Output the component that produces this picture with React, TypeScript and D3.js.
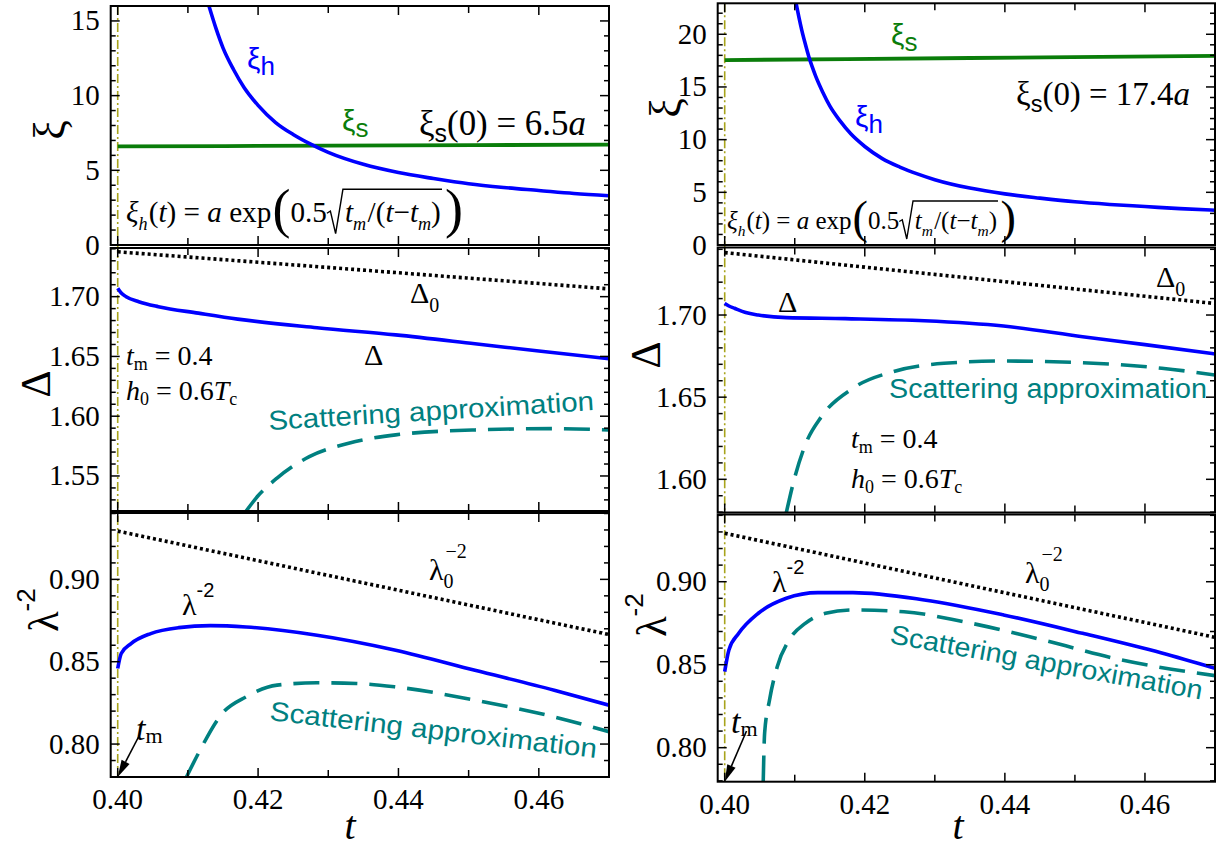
import React from 'react';
import * as d3 from 'd3';

const SERIF = "Liberation Serif, Tinos, Times New Roman, DejaVu Serif, serif";
const SANS = "Liberation Sans, Arimo, Arial, DejaVu Sans, sans-serif";
const BLUE = '#0000ff';
const GREEN = '#0a7d0a';
const TEAL = '#008080';
const OLIVE = '#a8a41c';

// ---------- shared axis values ----------
const T_DOMAIN: [number, number] = [0.399, 0.470];
const T_MAJOR = [0.40, 0.42, 0.44, 0.46];
const T_MINOR = [0.41, 0.43, 0.45];
const T_LABELS = ['0.40', '0.42', '0.44', '0.46'];
const T_M = 0.40;

const L_XI_TICKS = [0, 5, 10, 15];
const R_XI_TICKS = [0, 5, 10, 15, 20];
const L_DELTA_TICKS = [1.55, 1.60, 1.65, 1.70];
const R_DELTA_TICKS = [1.60, 1.65, 1.70];
const LAMBDA_TICKS = [0.80, 0.85, 0.90];

// ---------- left column data ----------
const L_XIS_T = [0.400, 0.430, 0.470];
const L_XIS_V = [6.60, 6.65, 6.72];
const L_XIH_T = [0.4130, 0.4140, 0.4150, 0.4165, 0.4180, 0.4200, 0.4225, 0.4250, 0.4275, 0.4300, 0.4350, 0.4400, 0.4450, 0.4500, 0.4550, 0.4600, 0.4650, 0.4700];
const L_XIH_V = [16.0, 14.5, 13.2, 11.75, 10.55, 9.35, 8.2, 7.4, 6.75, 6.2, 5.4, 4.85, 4.45, 4.1, 3.85, 3.65, 3.45, 3.3];

const L_D0_T = [0.400, 0.435, 0.470];
const L_D0_V = [1.7375, 1.7222, 1.7065];
const L_D_T = [0.4000, 0.4005, 0.4012, 0.4030, 0.4058, 0.4115, 0.4171, 0.4284, 0.4396, 0.4509, 0.4600, 0.4700];
const L_D_V = [1.7070, 1.7030, 1.7000, 1.6958, 1.6916, 1.6862, 1.6812, 1.6740, 1.6680, 1.6606, 1.6545, 1.6480];
const L_DS_T = [0.4183, 0.4199, 0.4227, 0.4273, 0.4329, 0.4396, 0.4509, 0.4622, 0.4700];
const L_DS_V = [1.5207, 1.5328, 1.5482, 1.5662, 1.5774, 1.5844, 1.5885, 1.5896, 1.5885];

const L_L0_T = [0.400, 0.435, 0.470];
const L_L0_V = [0.9293, 0.8979, 0.8665];
const L_L_T = [0.4000, 0.4005, 0.4019, 0.4047, 0.4087, 0.4132, 0.4183, 0.4284, 0.4396, 0.4509, 0.4622, 0.4700];
const L_L_V = [0.8459, 0.8550, 0.8610, 0.8671, 0.8707, 0.8719, 0.8711, 0.8661, 0.8570, 0.8448, 0.8327, 0.8236];
const L_LS_T = [0.4098, 0.4115, 0.4149, 0.4183, 0.4227, 0.4284, 0.4340, 0.4396, 0.4509, 0.4622, 0.4700];
const L_LS_V = [0.7800, 0.7944, 0.8186, 0.8287, 0.8358, 0.8372, 0.8368, 0.8347, 0.8267, 0.8165, 0.8075];

// ---------- right column data ----------
const R_XIS_T = [0.400, 0.435, 0.470];
const R_XIS_V = [17.55, 17.75, 17.95];
const R_XIH_T = [0.4102, 0.4106, 0.4110, 0.4115, 0.4120, 0.4125, 0.4130, 0.4140, 0.4150, 0.4165, 0.4180, 0.4200, 0.4225, 0.4250, 0.4275, 0.4300, 0.4350, 0.4400, 0.4450, 0.4500, 0.4550, 0.4600, 0.4650, 0.4700];
const R_XIH_V = [22.9, 21.6, 20.4, 19.1, 17.9, 16.9, 16.0, 14.5, 13.2, 11.75, 10.55, 9.35, 8.2, 7.4, 6.75, 6.2, 5.4, 4.85, 4.45, 4.1, 3.85, 3.65, 3.45, 3.3];

const R_D0_T = [0.400, 0.435, 0.470];
const R_D0_V = [1.7380, 1.7225, 1.7070];
const R_D_T = [0.4000, 0.4006, 0.4014, 0.4030, 0.4048, 0.4088, 0.4172, 0.4285, 0.4398, 0.4511, 0.4600, 0.4700];
const R_D_V = [1.7071, 1.7055, 1.7041, 1.7015, 1.7000, 1.6984, 1.6978, 1.6965, 1.6933, 1.6868, 1.6820, 1.6763];
const R_DS_T = [0.4088, 0.4099, 0.4116, 0.4138, 0.4183, 0.4240, 0.4313, 0.4398, 0.4511, 0.4624, 0.4700];
const R_DS_V = [1.5798, 1.5996, 1.6220, 1.6381, 1.6554, 1.6655, 1.6706, 1.6720, 1.6710, 1.6676, 1.6635];

const R_L0_T = [0.400, 0.435, 0.470];
const R_L0_V = [0.9292, 0.8978, 0.8665];
const R_L_T = [0.4000, 0.4006, 0.4020, 0.4048, 0.4088, 0.4133, 0.4183, 0.4285, 0.4398, 0.4511, 0.4624, 0.4700];
const R_L_V = [0.8458, 0.8589, 0.8689, 0.8810, 0.8900, 0.8934, 0.8934, 0.8890, 0.8800, 0.8689, 0.8570, 0.8478];
const R_LS_T = [0.4055, 0.4057, 0.4064, 0.4075, 0.4092, 0.4115, 0.4144, 0.4183, 0.4256, 0.4341, 0.4454, 0.4567, 0.4700];
const R_LS_V = [0.7795, 0.8088, 0.8287, 0.8488, 0.8649, 0.8749, 0.8810, 0.8830, 0.8819, 0.8759, 0.8649, 0.8528, 0.8434];

const zip = (t: number[], v: number[]): [number, number][] => t.map((x, i) => [x, v[i]]);

// ---------- text measuring / rich text ----------
let _ctx: CanvasRenderingContext2D | null = null;
function measure(s: string, size: number, italic: boolean, sans: boolean) {
  if (!_ctx) _ctx = document.createElement('canvas').getContext('2d');
  const c = _ctx!;
  c.font = `${italic ? 'italic ' : ''}${size}px ${sans ? SANS : SERIF}`;
  return c.measureText(s).width;
}

type Seg = { t?: string; s: number; it?: boolean; sans?: boolean; dy?: number; dx?: number; noAdv?: boolean; fill?: string; kind?: 'radStart' | 'radEnd' };

function Rich({ x, y, segs, rotate = 0, anchor = 'start', fill = '#000', fit }: { x: number; y: number; segs: Seg[]; rotate?: number; anchor?: string; fill?: string; fit?: number }) {
  const place = (k: number) => {
    let cx = 0;
    let rs = 0;
    const items: any[] = [];
    const paths: string[] = [];
    for (const sg of segs) {
      const s = sg.s * k;
      cx += (sg.dx || 0) * k;
      if (sg.kind === 'radStart') { rs = cx; cx += 0.62 * s; continue; }
      if (sg.kind === 'radEnd') {
        const re = cx + 0.04 * s;
        paths.push(`M${rs},${-0.3 * s}L${rs + 0.12 * s},${-0.37 * s}L${rs + 0.3 * s},${0.4 * s}L${rs + 0.55 * s},${-1.12 * s}H${re}`);
        cx += 0.1 * s;
        continue;
      }
      const w = measure(sg.t || '', s, !!sg.it, !!sg.sans);
      items.push({ ...sg, s, x: cx, dy: (sg.dy || 0) * k });
      if (!sg.noAdv) cx += w;
    }
    return { items, paths, width: cx };
  };
  let p = place(1);
  if (fit) p = place(fit / p.width);
  const off = anchor === 'middle' ? -p.width / 2 : anchor === 'end' ? -p.width : 0;
  return (
    <g transform={`translate(${x},${y}) rotate(${rotate})`}>
      {p.items.map((it, i) => (
        <text key={i} x={it.x + off} y={it.dy} fontFamily={it.sans ? SANS : SERIF} fontSize={it.s}
          fontStyle={it.it ? 'italic' : 'normal'} fill={it.fill || fill} style={{ whiteSpace: 'pre' }}>{it.t}</text>
      ))}
      {p.paths.map((d, i) => (
        <path key={'p' + i} d={d} transform={`translate(${off},0)`} fill="none" stroke={fill} strokeWidth={1.4} />
      ))}
    </g>
  );
}

const formulaSegs = (F: number): Seg[] => {
  const sub = 0.62 * F, sd = 0.26 * F, B = 1.85 * F, bd = 0.17 * F;
  return [
    { t: 'ξ', s: F, it: true },
    { t: 'h', s: sub, it: true, dy: sd },
    { t: '(', s: F, dx: 0.04 * F },
    { t: 't', s: F, it: true },
    { t: ')', s: F },
    { t: ' = ', s: F },
    { t: 'a', s: F, it: true },
    { t: ' exp', s: F },
    { t: '(', s: B, dy: bd, dx: 0.04 * F },
    { t: '0.5', s: F },
    { kind: 'radStart', s: F },
    { t: 't', s: F, it: true },
    { t: 'm', s: sub, it: true, dy: sd },
    { t: '/', s: F, dx: 0.05 * F },
    { t: '(', s: F },
    { t: 't', s: F, it: true },
    { t: '−', s: F },
    { t: 't', s: F, it: true },
    { t: 'm', s: sub, it: true, dy: sd },
    { t: ')', s: F },
    { kind: 'radEnd', s: F },
    { t: ')', s: B, dy: bd, dx: 0.04 * F },
  ];
};

function Arrow({ x1, y1, x2, y2 }: { x1: number; y1: number; x2: number; y2: number }) {
  const a = Math.atan2(y2 - y1, x2 - x1);
  const L = 17, W = 4.5;
  const bx = x2 - L * Math.cos(a), by = y2 - L * Math.sin(a);
  const px = -Math.sin(a) * W, py = Math.cos(a) * W;
  return (
    <g>
      <line x1={x1} y1={y1} x2={bx} y2={by} stroke="#000" strokeWidth={1.6} />
      <polygon points={`${x2},${y2} ${bx + px},${by + py} ${bx - px},${by - py}`} fill="#000" />
    </g>
  );
}

function Scatter({ x, y, rot, len }: { x: number; y: number; rot: number; len: number }) {
  return (
    <text transform={`translate(${x},${y}) rotate(${rot})`} fontFamily={SANS} fontSize={27} fill={TEAL}
      textLength={len} lengthAdjust="spacingAndGlyphs">Scattering approximation</text>
  );
}

// ---------- panel ----------
type Scales = { xs: d3.ScaleLinear<number, number>; ys: d3.ScaleLinear<number, number> };
function Panel({ id, x0, x1, y0, y1, yDomain, yMajor, yFmt, yMinorStep, xLabels, children }: {
  id: string; x0: number; x1: number; y0: number; y1: number; yDomain: [number, number]; yMajor: number[];
  yFmt: (v: number) => string; yMinorStep: number; xLabels?: boolean; children: (s: Scales) => React.ReactNode;
}) {
  const xs = d3.scaleLinear().domain(T_DOMAIN).range([x0, x1]);
  const ys = d3.scaleLinear().domain(yDomain).range([y1, y0]);
  const maj = 9, mnr = 5;
  const minors = d3.range(Math.ceil(yDomain[0] / yMinorStep - 1e-6), Math.floor(yDomain[1] / yMinorStep + 1e-6) + 1)
    .map((k) => k * yMinorStep)
    .filter((v) => !yMajor.some((m) => Math.abs(m - v) < yMinorStep / 10));
  return (
    <g>
      <defs>
        <clipPath id={id}><rect x={x0} y={y0} width={x1 - x0} height={y1 - y0} /></clipPath>
      </defs>
      <g clipPath={`url(#${id})`}>{children({ xs, ys })}</g>
      <g stroke="#000" strokeWidth={1.5}>
        {yMajor.map((v) => (
          <g key={'M' + v}>
            <line x1={x0} x2={x0 + maj} y1={ys(v)} y2={ys(v)} />
            <line x1={x1} x2={x1 - maj} y1={ys(v)} y2={ys(v)} />
          </g>
        ))}
        {minors.map((v) => (
          <g key={'m' + v}>
            <line x1={x0} x2={x0 + mnr} y1={ys(v)} y2={ys(v)} />
            <line x1={x1} x2={x1 - mnr} y1={ys(v)} y2={ys(v)} />
          </g>
        ))}
        {T_MAJOR.map((t) => (
          <g key={'tM' + t}>
            <line x1={xs(t)} x2={xs(t)} y1={y0} y2={y0 + maj} />
            <line x1={xs(t)} x2={xs(t)} y1={y1} y2={y1 - maj} />
          </g>
        ))}
        {T_MINOR.map((t) => (
          <g key={'tm' + t}>
            <line x1={xs(t)} x2={xs(t)} y1={y0} y2={y0 + mnr + 2} />
            <line x1={xs(t)} x2={xs(t)} y1={y1} y2={y1 - mnr - 2} />
          </g>
        ))}
      </g>
      <rect x={x0} y={y0} width={x1 - x0} height={y1 - y0} fill="none" stroke="#000" strokeWidth={2} />
      {yMajor.map((v) => (
        <text key={'yl' + v} x={x0 - 11} y={ys(v) + 9.5} textAnchor="end"
          fontFamily={SERIF} fontSize={29} fill="#000">{yFmt(v)}</text>
      ))}
      {xLabels && T_MAJOR.map((t, i) => (
        <text key={'xl' + t} x={xs(t)} y={y1 + 32} textAnchor="middle" fontFamily={SERIF} fontSize={29} fill="#000">{T_LABELS[i]}</text>
      ))}
    </g>
  );
}

const mkLine = (s: Scales, d: [number, number][]) =>
  d3.line<[number, number]>().x((p) => s.xs(p[0])).y((p) => s.ys(p[1])).curve(d3.curveMonotoneX)(d) || '';

const Solid = ({ s, d, color, w = 3.6 }: { s: Scales; d: [number, number][]; color: string; w?: number }) => (
  <path d={mkLine(s, d)} fill="none" stroke={color} strokeWidth={w} />
);
const Dashed = ({ s, d }: { s: Scales; d: [number, number][] }) => (
  <path d={mkLine(s, d)} fill="none" stroke={TEAL} strokeWidth={3.6} strokeDasharray="26 12" />
);
const Dotted = ({ s, d }: { s: Scales; d: [number, number][] }) => (
  <path d={mkLine(s, d)} fill="none" stroke="#000" strokeWidth={3.6} strokeDasharray="3 3" />
);

const fmt0 = (v: number) => d3.format('d')(v);
const fmt2 = (v: number) => d3.format('.2f')(v);

const xiSeg = (fill: string, sub: string): Seg[] => [
  { t: 'ξ', s: 30, sans: true, fill },
  { t: sub, s: 26, sans: true, dy: 6, fill },
];
const xs0Segs = (val: string): Seg[] => [
  { t: 'ξ', s: 28 },
  { t: 's', s: 20, sans: true, dy: 6 },
  { t: `(0) = ${val}`, s: 28 },
  { t: 'a', s: 28, it: true },
];
const tmSegs: Seg[] = [{ t: 't', s: 28, it: true }, { t: 'm', s: 18, dy: 5 }, { t: ' = 0.4', s: 28 }];
const h0Segs: Seg[] = [
  { t: 'h', s: 28, it: true }, { t: '0', s: 18, dy: 5 }, { t: ' = 0.6', s: 28 },
  { t: 'T', s: 28, it: true }, { t: 'c', s: 18, dy: 5 },
];
const d0Segs: Seg[] = [{ t: 'Δ', s: 30 }, { t: '0', s: 20, dy: 9 }];
const l0Segs: Seg[] = [{ t: 'λ', s: 30 }, { t: '0', s: 20, dy: 8, noAdv: true }, { t: '−2', s: 20, dy: -22, dx: 2 }];
const lSegs: Seg[] = [{ t: 'λ', s: 30 }, { t: '-2', s: 20, sans: true, dy: -18 }];
const tmArrowSegs: Seg[] = [{ t: 't', s: 34, it: true }, { t: 'm', s: 22, dy: 3 }];
const lamAxisSegs: Seg[] = [{ t: 'λ', s: 42 }, { t: '-2', s: 26, sans: true, dy: -23 }];

export default function App() {
  const LX0 = 110.7, LX1 = 609, RX0 = 717.7, RX1 = 1215;
  const lx = d3.scaleLinear().domain(T_DOMAIN).range([LX0, LX1]);
  const rx = d3.scaleLinear().domain(T_DOMAIN).range([RX0, RX1]);
  return (
    <svg width={1228} height={848} viewBox="0 0 1228 848" style={{ display: 'block', position: 'absolute', left: 0, top: 0, background: '#fff' }}>
      <rect width={1228} height={848} fill="#fff" />
      {/* t_m reference lines */}
      <line x1={lx(T_M)} x2={lx(T_M)} y1={6} y2={777} stroke={OLIVE} strokeWidth={1.6} strokeDasharray="9 3 2 3" />
      <line x1={rx(T_M)} x2={rx(T_M)} y1={3.3} y2={781.7} stroke={OLIVE} strokeWidth={1.6} strokeDasharray="9 3 2 3" />

      {/* ---------- LEFT COLUMN ---------- */}
      <Panel id="L1" x0={LX0} x1={LX1} y0={6} y1={245} yDomain={[0, 16]} yMajor={L_XI_TICKS} yFmt={fmt0} yMinorStep={1}>
        {(s) => (<>
          <Solid s={s} d={zip(L_XIS_T, L_XIS_V)} color={GREEN} w={3.8} />
          <Solid s={s} d={zip(L_XIH_T, L_XIH_V)} color={BLUE} />
        </>)}
      </Panel>
      <Panel id="L2" x0={LX0} x1={LX1} y0={248} y1={511} yDomain={[1.5207, 1.7407]} yMajor={L_DELTA_TICKS} yFmt={fmt2} yMinorStep={0.01}>
        {(s) => (<>
          <Dotted s={s} d={zip(L_D0_T, L_D0_V)} />
          <Solid s={s} d={zip(L_D_T, L_D_V)} color={BLUE} />
          <Dashed s={s} d={zip(L_DS_T, L_DS_V)} />
        </>)}
      </Panel>
      <Panel id="L3" x0={LX0} x1={LX1} y0={513} y1={777} yDomain={[0.780, 0.9403]} yMajor={LAMBDA_TICKS} yFmt={fmt2} yMinorStep={0.01} xLabels>
        {(s) => (<>
          <Dotted s={s} d={zip(L_L0_T, L_L0_V)} />
          <Solid s={s} d={zip(L_L_T, L_L_V)} color={BLUE} />
          <Dashed s={s} d={zip(L_LS_T, L_LS_V)} />
        </>)}
      </Panel>

      {/* ---------- RIGHT COLUMN ---------- */}
      <Panel id="R1" x0={RX0} x1={RX1} y0={3.3} y1={245} yDomain={[0, 22.94]} yMajor={R_XI_TICKS} yFmt={fmt0} yMinorStep={1}>
        {(s) => (<>
          <Solid s={s} d={zip(R_XIS_T, R_XIS_V)} color={GREEN} w={3.8} />
          <Solid s={s} d={zip(R_XIH_T, R_XIH_V)} color={BLUE} />
        </>)}
      </Panel>
      <Panel id="R2" x0={RX0} x1={RX1} y0={247.5} y1={512.5} yDomain={[1.5798, 1.7411]} yMajor={R_DELTA_TICKS} yFmt={fmt2} yMinorStep={0.01}>
        {(s) => (<>
          <Dotted s={s} d={zip(R_D0_T, R_D0_V)} />
          <Solid s={s} d={zip(R_D_T, R_D_V)} color={BLUE} />
          <Dashed s={s} d={zip(R_DS_T, R_DS_V)} />
        </>)}
      </Panel>
      <Panel id="R3" x0={RX0} x1={RX1} y0={514.5} y1={781.7} yDomain={[0.7795, 0.9405]} yMajor={LAMBDA_TICKS} yFmt={fmt2} yMinorStep={0.01} xLabels>
        {(s) => (<>
          <Dotted s={s} d={zip(R_L0_T, R_L0_V)} />
          <Solid s={s} d={zip(R_L_T, R_L_V)} color={BLUE} />
          <Dashed s={s} d={zip(R_LS_T, R_LS_V)} />
        </>)}
      </Panel>

      {/* ---------- annotations left ---------- */}
      <Rich x={247} y={69} segs={xiSeg(BLUE, 'h')} />
      <Rich x={342} y={131} segs={xiSeg(GREEN, 's')} />
      <Rich x={419} y={135} segs={xs0Segs('6.5')} fit={167} />
      <Rich x={126} y={222} segs={formulaSegs(26)} fit={337} />
      <Rich x={410} y={303} segs={d0Segs} />
      <Rich x={364} y={365} segs={[{ t: 'Δ', s: 30 }]} />
      <Rich x={126} y={365} segs={tmSegs} />
      <Rich x={126} y={400} segs={h0Segs} />
      <Scatter x={269} y={430} rot={-3.5} len={326} />
      <Rich x={429} y={580} segs={l0Segs} />
      <Rich x={182} y={615} segs={lSegs} />
      <Scatter x={269} y={720} rot={6.6} len={329} />
      <Rich x={136} y={740} segs={tmArrowSegs} />
      <Arrow x1={138.5} y1={737} x2={lx(T_M)} y2={777} />

      {/* ---------- annotations right ---------- */}
      <Rich x={855} y={127} segs={xiSeg(BLUE, 'h')} />
      <Rich x={891} y={45} segs={xiSeg(GREEN, 's')} />
      <Rich x={1016} y={105} segs={xs0Segs('17.4')} fit={174} />
      <Rich x={727} y={229} segs={formulaSegs(22)} fit={289} />
      <Rich x={1156} y={287} segs={d0Segs} />
      <Rich x={778} y={312} segs={[{ t: 'Δ', s: 30 }]} />
      <Scatter x={889} y={398} rot={0} len={318} />
      <Rich x={851} y={448} segs={tmSegs} />
      <Rich x={851} y={488} segs={h0Segs} />
      <Rich x={1025} y={583} segs={l0Segs} />
      <Rich x={772} y={592} segs={lSegs} />
      <Scatter x={889} y={643} rot={10.3} len={317} />
      <Rich x={731} y={733} segs={tmArrowSegs} />
      <Arrow x1={746.5} y1={731} x2={rx(T_M)} y2={781.7} />

      {/* ---------- axis titles ---------- */}
      <text transform="translate(64,130) rotate(-90)" textAnchor="middle" fontFamily={SERIF} fontSize={44}>ξ</text>
      <text transform="translate(50,384) rotate(-90)" textAnchor="middle" fontFamily={SERIF} fontSize={42}>Δ</text>
      <Rich x={58} y={610} rotate={-90} anchor="middle" segs={lamAxisSegs} />
      <text transform="translate(680,108) rotate(-90)" textAnchor="middle" fontFamily={SERIF} fontSize={44}>ξ</text>
      <text transform="translate(660,355) rotate(-90)" textAnchor="middle" fontFamily={SERIF} fontSize={42}>Δ</text>
      <Rich x={666} y={615} rotate={-90} anchor="middle" segs={lamAxisSegs} />
      <text x={350} y={839} textAnchor="middle" fontFamily={SERIF} fontStyle="italic" fontSize={40}>t</text>
      <text x={958} y={839} textAnchor="middle" fontFamily={SERIF} fontStyle="italic" fontSize={40}>t</text>
    </svg>
  );
}
